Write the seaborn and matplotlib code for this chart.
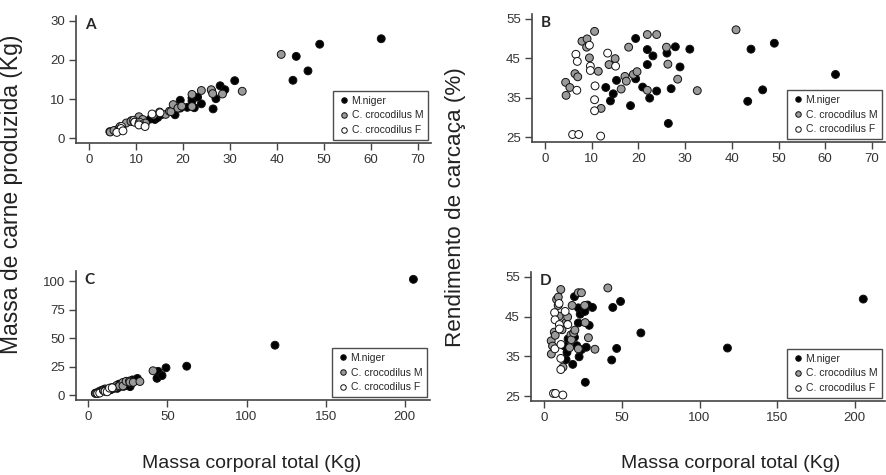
import matplotlib
matplotlib.use("Agg")
import matplotlib.pyplot as plt
import pandas as pd
import seaborn as sns

# M. niger: body mass (Kg), meat (Kg), carcass yield (%)
niger_mass = [13.0, 14.0, 14.6, 15.3, 18.3, 19.4, 19.4, 20.9, 21.9, 21.9, 22.4, 23.1, 23.9,
              26.1, 26.4, 27.0, 27.9, 28.9, 31.0, 43.4, 44.1, 46.6, 49.1, 62.2, 118.0, 205.5]
niger_meat = [4.9, 4.8, 5.3, 6.0, 6.0, 9.7, 7.7, 7.9, 10.3, 9.5, 7.8, 10.5, 8.8,
              12.1, 7.5, 10.1, 13.4, 12.4, 14.7, 14.8, 20.9, 17.2, 24.0, 25.4, 43.8, 101.5]
niger_yield = [37.6, 34.2, 36.0, 39.4, 33.0, 50.0, 39.8, 37.7, 47.2, 43.4, 34.9, 45.6, 36.7,
               46.3, 28.5, 37.3, 47.9, 42.8, 47.3, 34.1, 47.3, 37.0, 48.8, 40.9, 37.1, 49.4]

# C. crocodilus males
crocm_mass = [4.4, 4.5, 5.3, 6.4, 7.0, 7.9, 9.0, 8.9, 9.5, 10.6, 11.4, 12.0, 13.7, 15.0,
              16.3, 17.1, 17.4, 17.9, 18.9, 19.7, 21.9, 21.9, 23.9, 26.0, 26.3, 28.4, 32.6, 40.9]
crocm_meat = [1.7, 1.6, 2.0, 2.6, 2.8, 3.9, 4.5, 4.3, 4.3, 5.5, 4.8, 3.9, 5.9, 6.7,
              6.1, 6.9, 6.8, 8.6, 7.7, 8.2, 11.2, 8.1, 12.2, 12.4, 11.4, 11.3, 12.0, 21.4]
crocm_yield = [38.9, 35.6, 37.6, 41.1, 40.3, 49.3, 49.9, 47.8, 45.1, 51.8, 41.7, 32.3, 43.4, 44.9,
               37.2, 40.4, 39.2, 47.8, 40.9, 41.6, 51.0, 36.9, 51.0, 47.8, 43.5, 39.7, 36.8, 52.2]

# C. crocodilus females
crocf_mass = [6.6, 6.9, 6.8, 5.9, 7.2, 9.5, 9.7, 9.7, 10.7, 10.6, 10.6, 11.9, 13.4, 15.1]
crocf_meat = [3.0, 3.0, 2.5, 1.5, 1.9, 4.6, 4.2, 4.1, 4.1, 3.7, 3.4, 3.0, 6.2, 6.5]
crocf_yield = [46.0, 44.2, 36.9, 25.7, 25.7, 48.3, 43.0, 41.9, 38.0, 34.5, 31.7, 25.3, 46.3, 43.0]

groups = ["M.niger", "C. crocodilus M", "C. crocodilus F"]

frames = []
for name, m, c, r in zip(groups,
                         [niger_mass, crocm_mass, crocf_mass],
                         [niger_meat, crocm_meat, crocf_meat],
                         [niger_yield, crocm_yield, crocf_yield]):
    frames.append(pd.DataFrame({"mass": m, "meat": c, "yield": r, "group": name}))
df = pd.concat(frames, ignore_index=True)
# top panels leave out the two largest animals
df_small = df[df["mass"] < 100]

sns.set_style("ticks")
plt.rcParams["font.family"] = ["Liberation Sans", "DejaVu Sans"]

W, H = 886, 475
fig = plt.figure(figsize=(W / 100, H / 100), dpi=100)


def px_axes(l, t, r, b):
    return fig.add_axes([l / W, 1 - b / H, (r - l) / W, (b - t) / H])


palette = {"M.niger": "black", "C. crocodilus M": "#9a9a9a", "C. crocodilus F": "white"}
axis_col = "#444444"

panels = [
    ("A", (76, 16, 431, 143), df_small, "meat", (-2.8, 72.8), (-1.2, 31.2),
     [0, 10, 20, 30, 40, 50, 60, 70], [0, 10, 20, 30]),
    ("B", (532, 14, 885, 142), df_small, "yield", (-2.8, 72.8), (23.8, 56.2),
     [0, 10, 20, 30, 40, 50, 60, 70], [25, 35, 45, 55]),
    ("C", (76, 271, 430, 400), df, "meat", (-7.8, 216), (-4.2, 108.8),
     [0, 50, 100, 150, 200], [0, 25, 50, 75, 100]),
    ("D", (531, 272, 885, 401), df, "yield", (-8.6, 219.5), (23.8, 56.2),
     [0, 50, 100, 150, 200], [25, 35, 45, 55]),
]

for letter, box, data, ycol, xlim, ylim, xt, yt in panels:
    ax = px_axes(*box)
    sns.scatterplot(data=data, x="mass", y=ycol, hue="group", hue_order=groups,
                    palette=palette, edgecolor="#111111", linewidth=0.7, s=32,
                    ax=ax, zorder=3)
    ax.set_xlim(*xlim)
    ax.set_ylim(*ylim)
    ax.set_xticks(xt)
    ax.set_yticks(yt)
    ax.set_xlabel("")
    ax.set_ylabel("")
    for side in ["top", "right"]:
        ax.spines[side].set_visible(False)
    for side in ["left", "bottom"]:
        ax.spines[side].set_color(axis_col)
        ax.spines[side].set_linewidth(1.2)
    ax.tick_params(colors=axis_col, labelcolor="#333333", labelsize=9.5,
                   length=5, width=1.0, pad=3)
    ax.text(0.025, 0.985, letter, transform=ax.transAxes, ha="left", va="top",
            fontsize=11, fontweight="bold", family="Lato")

    handles, labels = ax.get_legend_handles_labels()
    leg = ax.legend(handles, labels, loc="lower right", fontsize=7.5,
                    markerscale=0.7, frameon=True, fancybox=False,
                    borderaxespad=0.25, handletextpad=0.1, borderpad=0.5,
                    labelspacing=0.45, handlelength=1.2)
    leg.get_frame().set_edgecolor("#222222")
    leg.get_frame().set_linewidth(1.0)

fig.text(12 / W, 1 - 194 / H, "Massa de carne produzida (Kg)", rotation=90,
         ha="center", va="center", fontsize=16.5, color="#222222")
fig.text(456 / W, 1 - 207 / H, "Rendimento de carcaça (%)", rotation=90,
         ha="center", va="center", fontsize=16.2, color="#222222")
fig.text(252 / W, 1 - 464 / H, "Massa corporal total (Kg)",
         ha="center", va="center", fontsize=14, color="#222222")
fig.text(731 / W, 1 - 464 / H, "Massa corporal total (Kg)",
         ha="center", va="center", fontsize=14, color="#222222")

fig.savefig("out.png", dpi=100)
